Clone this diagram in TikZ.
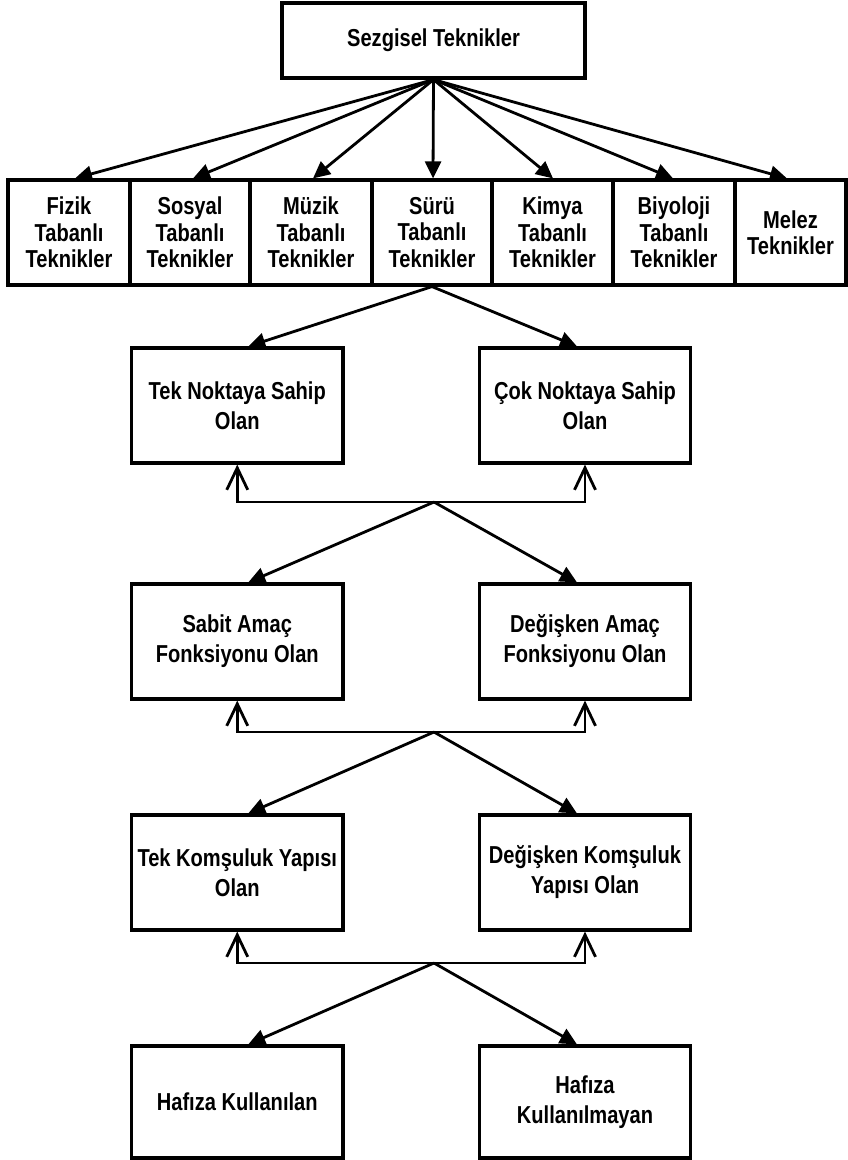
\documentclass[tikz,border=0pt]{standalone}
\usepackage{fontspec}
\setmainfont{Liberation Sans}[FakeStretch=0.82]
\usetikzlibrary{arrows.meta,calc}
\tikzset{
  box/.style={draw, line width=3.2pt, align=center, inner sep=0pt,
    font=\bfseries\fontsize{24.5}{30}\selectfont},
  lowbox/.style={box, minimum width=211.5pt, minimum height=115pt},
  rowbox/.style={box, minimum height=105pt, font=\bfseries\fontsize{24.5}{26.5}\selectfont},
  arr/.style={line width=2.8pt, -{Triangle[length=17pt,width=16pt]}},
  oarr/.style={line width=2.8pt, {Straight Barb[length=22pt,width=21pt]}-{Straight Barb[length=22pt,width=21pt]}}
}
\begin{document}
\begin{tikzpicture}[x=1pt,y=-1pt]
\useasboundingbox (0,0) rectangle (848,1160);
% top
\node[box, minimum width=303pt, minimum height=75pt] (top) at (433.5,40.5) {Sezgisel Teknikler};
% row
\node[rowbox, minimum width=122pt] (f1) at (69,232.5) {Fizik\\Tabanlı\\Teknikler};
\node[rowbox, minimum width=120pt] (f2) at (190,232.5) {Sosyal\\Tabanlı\\Teknikler};
\node[rowbox, minimum width=122pt] (f3) at (311,232.5) {Müzik\\Tabanlı\\Teknikler};
\node[rowbox, minimum width=120pt] (f4) at (432,232.5) {Sürü\\Tabanlı\\Teknikler};
\node[rowbox, minimum width=121pt] (f5) at (552.5,232.5) {Kimya\\Tabanlı\\Teknikler};
\node[rowbox, minimum width=122pt] (f6) at (674,232.5) {Biyoloji\\Tabanlı\\Teknikler};
\node[rowbox, minimum width=111pt] (f7) at (790.5,232.5) {Melez\\Teknikler};
\draw[arr] (top.south) -- ([xshift=6pt]f1.north);
\draw[arr] (top.south) -- ([xshift=3pt]f2.north);
\draw[arr] (top.south) -- ([xshift=2pt]f3.north);
\draw[arr] (top.south) -- ([xshift=1pt]f4.north);
\draw[arr] (top.south) -- ([xshift=0.5pt]f5.north);
\draw[arr] (top.south) -- ([xshift=-1pt]f6.north);
\draw[arr] (top.south) -- ([xshift=-3.5pt]f7.north);
% lower levels
\node[lowbox] (a1) at (237.25,405.5) {Tek Noktaya Sahip\\Olan};
\node[lowbox] (b1) at (585,405.5) {Çok Noktaya Sahip\\Olan};
\node[lowbox] (a2) at (237.25,641.5) {Sabit Amaç\\Fonksiyonu Olan};
\node[lowbox] (b2) at (585,641.5) {Değişken Amaç\\Fonksiyonu Olan};
\node[lowbox] (a3) at (237.25,872.5) {Tek Komşuluk Yapısı\\Olan};
\node[lowbox] (b3) at (585,872.5) {Değişken Komşuluk\\Yapısı Olan};
\node[lowbox, minimum height=112pt] (a4) at (237.25,1102) {Hafıza Kullanılan};
\node[lowbox, minimum height=112pt] (b4) at (585,1102) {Hafıza\\Kullanılmayan};
\coordinate (c1) at (434,502);
\coordinate (c2) at (434,732);
\coordinate (c3) at (434,963);
\draw[arr] (f4.south) -- ([xshift=11pt]a1.north);
\draw[arr] (f4.south) -- ([xshift=-8pt]b1.north);
\draw[oarr] (a1.south) |- (c1) -| (b1.south);
\draw[arr] (c1) -- ([xshift=11pt]a2.north);
\draw[arr] (c1) -- ([xshift=-8pt]b2.north);
\draw[oarr] (a2.south) |- (c2) -| (b2.south);
\draw[arr] (c2) -- ([xshift=11pt]a3.north);
\draw[arr] (c2) -- ([xshift=-8pt]b3.north);
\draw[oarr] (a3.south) |- (c3) -| (b3.south);
\draw[arr] (c3) -- ([xshift=11pt]a4.north);
\draw[arr] (c3) -- ([xshift=-8pt]b4.north);
\end{tikzpicture}
\end{document}
